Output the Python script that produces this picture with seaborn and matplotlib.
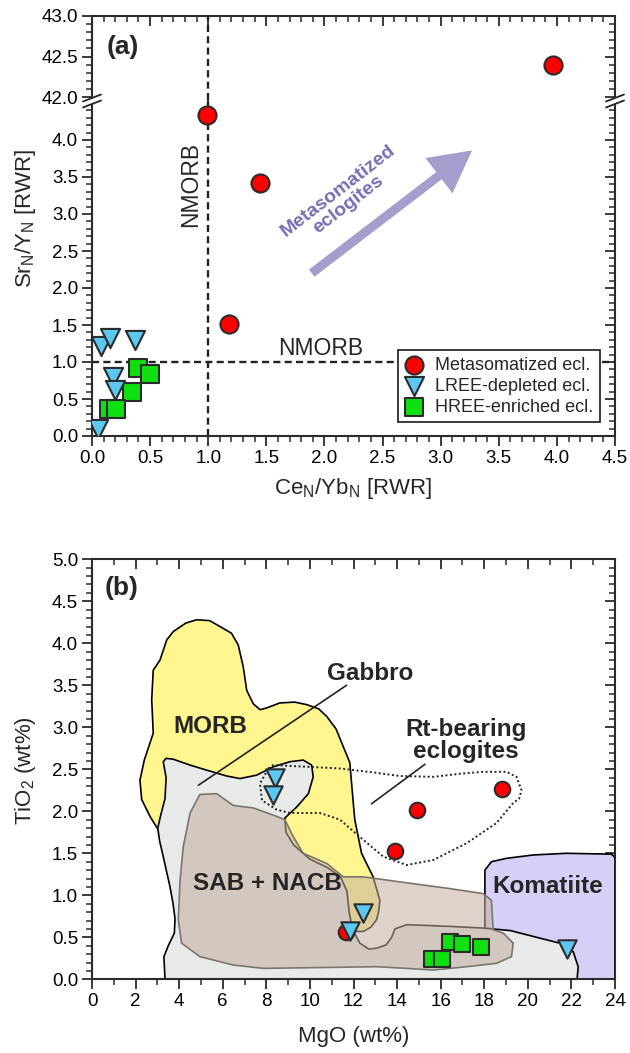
import numpy as np
import pandas as pd
import seaborn as sns
import matplotlib.pyplot as plt
from matplotlib.ticker import MultipleLocator, FixedLocator, FormatStrFormatter

# ---------------- data (a): Ce_N/Yb_N vs Sr_N/Y_N ----------------
meta_ce = [0.99, 1.445, 1.18, 3.97]
meta_sr = [4.34, 3.42, 1.51, 42.40]
lree_ce = [0.08, 0.155, 0.37, 0.18, 0.20, 0.05]
lree_sr = [1.21, 1.32, 1.30, 0.80, 0.62, 0.10]
hree_ce = [0.40, 0.50, 0.34, 0.15, 0.21]
hree_sr = [0.92, 0.84, 0.60, 0.37, 0.36]
nmorb_ce = 1.0
nmorb_sr = 1.0

# ---------------- data (b): MgO vs TiO2 ----------------
meta_mgo = [14.9, 18.8, 13.9, 11.65]
meta_ti = [2.02, 2.26, 1.53, 0.56]
lree_mgo = [8.39, 8.32, 12.42, 11.83, 21.82]
lree_ti = [2.40, 2.19, 0.79, 0.58, 0.36]
hree_mgo = [16.45, 16.99, 17.84, 15.58, 16.04]
hree_ti = [0.44, 0.42, 0.38, 0.24, 0.24]

# reference fields (outline vertices, MgO / TiO2)
morb_mgo = [3.04, 2.66, 2.28, 2.20, 2.40, 2.81, 2.74, 2.81, 3.12, 3.43, 3.73, 4.30, 4.80, 5.40,
            5.87, 6.40, 6.71, 6.94, 7.10, 7.40, 7.71, 8.01, 8.62, 9.30, 9.85, 10.40, 10.77,
            11.20, 11.53, 11.83, 11.99, 12.06, 12.37, 12.90, 13.21, 13.15, 13.06, 12.80,
            12.45, 11.99, 11.00, 9.00, 5.00]
morb_ti = [1.78, 1.94, 2.14, 2.37, 2.61, 2.93, 3.33, 3.68, 3.80, 4.04, 4.14, 4.24, 4.28, 4.27,
           4.20, 4.12, 3.98, 3.72, 3.44, 3.28, 3.21, 3.23, 3.29, 3.30, 3.27, 3.22, 3.13,
           2.98, 2.77, 2.58, 2.10, 1.90, 1.50, 1.22, 0.94, 0.80, 0.71, 0.62,
           0.57, 0.57, 0.90, 1.50, 1.70]
gab_mgo = [3.35, 3.30, 3.50, 3.78, 3.81, 3.72, 3.58, 3.27, 3.10, 3.02, 3.15, 3.35, 3.40, 3.27,
           3.40, 3.73, 4.50, 5.26, 6.18, 6.79, 7.55, 8.32, 9.08, 9.69, 10.08, 10.15, 9.93,
           9.39, 8.85, 8.90, 9.25, 10.0, 10.8, 11.4, 11.7, 11.8, 11.95, 12.29, 12.70, 13.06,
           13.50, 13.75, 13.90, 14.44, 16.42, 17.95, 19.2, 20.25, 21.47, 22.08, 22.31, 22.26]
gab_ti = [0.0, 0.27, 0.40, 0.55, 0.72, 0.90, 1.10, 1.46, 1.65, 1.80, 1.95, 2.15, 2.40, 2.59,
          2.63, 2.62, 2.55, 2.49, 2.42, 2.39, 2.43, 2.53, 2.59, 2.61, 2.55, 2.41, 2.21,
          2.05, 1.92, 1.75, 1.60, 1.43, 1.33, 1.22, 1.05, 0.80, 0.60, 0.43, 0.36, 0.37,
          0.41, 0.50, 0.60, 0.65, 0.63, 0.61, 0.58, 0.51, 0.43, 0.33, 0.15, 0.0]
sab_mgo = [4.95, 5.72, 6.48, 7.40, 8.47, 8.85, 9.23, 9.69, 10.77, 11.53, 12.45, 14.13, 16.42,
           17.95, 18.33, 18.41, 18.87, 19.33, 19.25, 18.56, 17.19, 15.66, 14.44, 13.06, 10.5,
           7.86, 6.48, 4.95, 4.11, 3.96, 4.04, 4.19, 4.50]
sab_ti = [2.20, 2.21, 2.07, 2.04, 1.94, 1.90, 1.70, 1.50, 1.38, 1.22, 1.22, 1.16, 1.08,
          1.02, 0.94, 0.59, 0.55, 0.43, 0.27, 0.19, 0.15, 0.11, 0.13, 0.15, 0.14,
          0.13, 0.17, 0.27, 0.43, 0.71, 1.18, 1.58, 1.98]
kom_mgo = [18.03, 18.03, 18.33, 19.02, 20.24, 21.77, 23.84, 24.0, 24.0, 18.03]
kom_ti = [0.61, 1.30, 1.40, 1.44, 1.48, 1.50, 1.49, 1.45, 0.0, 0.0]
rt_mgo = [8.09, 8.32, 9.85, 11.38, 13.0, 14.13, 15.66, 17.0, 17.95, 19.02, 19.48, 19.71, 19.60,
          19.33, 18.56, 17.19, 15.66, 14.44, 13.37, 12.45, 11.38, 10.46, 9.08, 8.47, 7.80, 7.71]
rt_ti = [2.51, 2.55, 2.53, 2.51, 2.46, 2.42, 2.41, 2.45, 2.47, 2.47, 2.41, 2.25, 2.15,
         2.10, 1.86, 1.62, 1.42, 1.36, 1.46, 1.66, 1.90, 1.98, 1.98, 2.02, 2.13, 2.33]

RED, BLUE, GREEN = '#ff0000', '#5cc8f2', '#0fe00f'
EDGE = '#2b2b2b'

sns.set_style("ticks")
plt.rcParams['font.family'] = ['Liberation Sans', 'DejaVu Sans']
plt.rcParams['mathtext.default'] = 'regular'
plt.rcParams['axes.edgecolor'] = '#2b2b2b'
plt.rcParams['xtick.color'] = '#2b2b2b'
plt.rcParams['ytick.color'] = '#2b2b2b'
plt.rcParams['xtick.labelcolor'] = 'black'
plt.rcParams['ytick.labelcolor'] = 'black'

W, H = 630, 1053
fig = plt.figure(figsize=(W / 100, H / 100), dpi=100)


def rect(x0, y0, x1, y1):
    return [x0 / W, 1 - y1 / H, (x1 - x0) / W, (y1 - y0) / H]


ax_top = fig.add_axes(rect(92, 16, 615, 100))
ax_bot = fig.add_axes(rect(92, 100, 615, 436))
ax_b = fig.add_axes(rect(92, 559.3, 615, 979.3))

TICK_FS = 13.5
LAB_FS = 16


def base_ticks(ax):
    ax.tick_params(which='both', direction='out', labelsize=TICK_FS, width=1.3, pad=3)
    ax.tick_params(which='major', length=7)
    ax.tick_params(which='minor', length=4, width=1.1)
    for s in ax.spines.values():
        s.set_linewidth(1.5)


def inner_ticks(ax, side, major, minor):
    if side == 'top':
        sec = ax.secondary_xaxis('top')
        axis = sec.xaxis
        sec.tick_params(which='both', direction='in', labeltop=False)
    else:
        sec = ax.secondary_yaxis('right')
        axis = sec.yaxis
        sec.tick_params(which='both', direction='in', labelright=False)
    axis.set_major_locator(major)
    axis.set_minor_locator(minor)
    sec.tick_params(which='major', length=7, width=1.3)
    sec.tick_params(which='minor', length=4, width=1.1)
    for s in sec.spines.values():
        s.set_linewidth(1.5)
    return sec


# ---------------- panel (a) ----------------
for ax in (ax_top, ax_bot):
    base_ticks(ax)
    ax.set_xlim(0, 4.5)
    ax.xaxis.set_major_locator(MultipleLocator(0.5))
    ax.xaxis.set_minor_locator(MultipleLocator(0.1))
    ax.xaxis.set_major_formatter(FormatStrFormatter('%.1f'))
    ax.yaxis.set_major_formatter(FormatStrFormatter('%.1f'))
    ax.yaxis.set_minor_locator(MultipleLocator(0.1))
    ax.axvline(nmorb_ce, color='#222222', lw=1.7, ls=(0, (3, 1.8)), zorder=1)

ax_top.set_ylim(42.0 - 3 / 81, 43.0)
ax_top.yaxis.set_major_locator(FixedLocator([42.0, 42.5, 43.0]))
ax_top.spines['bottom'].set_visible(False)
ax_top.spines['right'].set_visible(False)
ax_top.spines['top'].set_visible(False)
ax_top.tick_params(axis='x', which='both', bottom=False, labelbottom=False)
inner_ticks(ax_top, 'top', MultipleLocator(0.5), MultipleLocator(0.1))
sec = inner_ticks(ax_top, 'right', FixedLocator([42.0, 42.5, 43.0]), MultipleLocator(0.1))

ax_bot.set_ylim(0, 336 / 74)
ax_bot.yaxis.set_major_locator(FixedLocator(np.arange(0, 4.01, 0.5)))
ax_bot.spines['top'].set_visible(False)
ax_bot.spines['right'].set_visible(False)
inner_ticks(ax_bot, 'right', FixedLocator(np.arange(0, 4.01, 0.5)), MultipleLocator(0.1))

ax_bot.axhline(nmorb_sr, color='#222222', lw=1.7, ls=(0, (3, 1.8)), zorder=1)

for ax, lab in ((ax_bot, True), (ax_top, False)):
    sns.scatterplot(x=meta_ce, y=meta_sr, ax=ax, marker='o', s=170, color=RED,
                    edgecolor=EDGE, linewidth=1.5, zorder=3,
                    label='Metasomatized ecl.' if lab else None, legend=False)
    sns.scatterplot(x=hree_ce, y=hree_sr, ax=ax, marker='s', s=150, color=GREEN,
                    edgecolor=EDGE, linewidth=1.5, zorder=3,
                    label='HREE-enriched ecl.' if lab else None, legend=False)
    sns.scatterplot(x=lree_ce, y=lree_sr, ax=ax, marker='v', s=190, color=BLUE,
                    edgecolor=EDGE, linewidth=1.5, zorder=4,
                    label='LREE-depleted ecl.' if lab else None, legend=False)

handles, labels = ax_bot.get_legend_handles_labels()
order = [labels.index(l) for l in ['Metasomatized ecl.', 'LREE-depleted ecl.', 'HREE-enriched ecl.']]
leg = ax_bot.legend([handles[i] for i in order], [labels[i] for i in order],
                    loc='lower right', bbox_to_anchor=(0.971, 0.042), borderaxespad=0,
                    fontsize=13, frameon=True, fancybox=False, framealpha=1,
                    edgecolor='#2b2b2b', handlelength=1.0, handletextpad=0.7,
                    labelspacing=0.22, borderpad=0.35)
leg.get_frame().set_linewidth(1.3)
leg.set_zorder(6)

ax_bot.text(0.845, 3.40, 'NMORB', rotation=90, ha='center', va='center', fontsize=16.5)
ax_bot.text(1.97, 1.18, 'NMORB', ha='center', va='center', fontsize=16.5)

ax_bot.annotate('', xy=(3.27, 3.86), xytext=(1.89, 2.20),
                arrowprops=dict(arrowstyle='simple,head_length=3.0,head_width=3.2,tail_width=0.65',
                                color='#a59dcc', mutation_scale=10, shrinkA=0, shrinkB=0, lw=0))
ax_bot.text(2.16, 3.22, 'Metasomatized\neclogites', rotation=37.6, ha='center', va='center',
            fontsize=14, fontweight='bold', color='#766eb4', linespacing=0.95,
            rotation_mode='anchor')

ax_bot.set_xlabel('Ce$_\\mathregular{N}$/Yb$_\\mathregular{N}$ [RWR]', fontsize=LAB_FS)
ax_bot.xaxis.set_label_coords(0.5, -0.118)
ax_bot.set_ylabel('Sr$_\\mathregular{N}$/Y$_\\mathregular{N}$ [RWR]', fontsize=LAB_FS)
ax_bot.yaxis.set_label_coords(-0.103, 0.647)

# axis break marks
for xp in (92, 615):
    yc = 100.5
    pts_up = [(xp - 9, yc + 1), (xp + 9, yc - 6)]
    pts_dn = [(xp - 9, yc + 7), (xp + 9, yc)]
    poly = [pts_up[0], pts_up[1], pts_dn[1], pts_dn[0]]
    fig.patches.append(plt.Polygon([(x / W, 1 - y / H) for x, y in poly], closed=True,
                                   transform=fig.transFigure, facecolor='white',
                                   edgecolor='none', zorder=10))
    for a, b in (pts_up, pts_dn):
        fig.add_artist(plt.Line2D([a[0] / W, b[0] / W], [1 - a[1] / H, 1 - b[1] / H],
                                  color='#222222', lw=1.3, zorder=11))

fig.text(123 / W, 1 - 47 / H, '(a)', ha='center', va='center', fontsize=19, fontweight='bold')

# ---------------- panel (b) ----------------
base_ticks(ax_b)
ax_b.set_xlim(0, 24)
ax_b.set_ylim(0, 5)
ax_b.xaxis.set_major_locator(MultipleLocator(2))
ax_b.xaxis.set_minor_locator(MultipleLocator(1))
ax_b.yaxis.set_major_locator(MultipleLocator(0.5))
ax_b.yaxis.set_minor_locator(MultipleLocator(0.1))
ax_b.yaxis.set_major_formatter(FormatStrFormatter('%.1f'))
ax_b.spines['top'].set_visible(False)
ax_b.spines['right'].set_visible(False)
inner_ticks(ax_b, 'top', MultipleLocator(2), MultipleLocator(1))
inner_ticks(ax_b, 'right', MultipleLocator(0.5), MultipleLocator(0.1))

ax_b.fill(kom_mgo, kom_ti, facecolor='#d6cff6', edgecolor='black', lw=1.2, zorder=1,
          joinstyle='round')
ax_b.fill(morb_mgo, morb_ti, facecolor='#fff68f', edgecolor='black', lw=1.2, zorder=1.1,
          joinstyle='round')
ax_b.fill(gab_mgo, gab_ti, facecolor='#e8e9e9', edgecolor='black', lw=1.2, zorder=1.2,
          joinstyle='round')
ax_b.fill(sab_mgo, sab_ti, facecolor='#c3ae9f', alpha=0.55, edgecolor='none', zorder=1.3)
ax_b.fill(sab_mgo, sab_ti, facecolor='none', edgecolor='#7b7570', lw=1.2, zorder=1.31,
          joinstyle='round')
ax_b.fill(rt_mgo, rt_ti, facecolor='none', edgecolor='#222222', lw=1.4, ls=(0, (1, 1.3)),
          zorder=1.4)

ax_b.plot([11.68, 4.88], [3.50, 2.31], color='#222222', lw=1.2, zorder=1.5)
ax_b.plot([15.28, 12.83], [2.56, 2.09], color='#222222', lw=1.2, zorder=1.5)

LBL = dict(ha='center', va='center', fontsize=17.5, fontweight='bold')
ax_b.text(5.41, 3.01, 'MORB', **LBL)
ax_b.text(12.75, 3.64, 'Gabbro', **LBL)
ax_b.text(17.16, 2.84, 'Rt-bearing\neclogites', linespacing=0.95, **LBL)
ax_b.text(8.05, 1.14, 'SAB + NACB', **LBL)
ax_b.text(20.93, 1.11, 'Komatiite', **LBL)

sns.scatterplot(x=meta_mgo, y=meta_ti, ax=ax_b, marker='o', s=125, color=RED,
                edgecolor=EDGE, linewidth=1.5, zorder=3, legend=False)
sns.scatterplot(x=hree_mgo, y=hree_ti, ax=ax_b, marker='s', s=135, color=GREEN,
                edgecolor=EDGE, linewidth=1.5, zorder=3, legend=False)
sns.scatterplot(x=lree_mgo, y=lree_ti, ax=ax_b, marker='v', s=175, color=BLUE,
                edgecolor=EDGE, linewidth=1.5, zorder=4, legend=False)

ax_b.set_xlabel('MgO (wt%)', fontsize=LAB_FS)
ax_b.xaxis.set_label_coords(0.5, -0.112)
ax_b.set_ylabel('TiO$_\\mathregular{2}$ (wt%)', fontsize=LAB_FS)
ax_b.yaxis.set_label_coords(-0.103, 0.496)

fig.text(121.7 / W, 1 - 588.3 / H, '(b)', ha='center', va='center', fontsize=19,
         fontweight='bold')

fig.savefig('out.png', dpi=100)
